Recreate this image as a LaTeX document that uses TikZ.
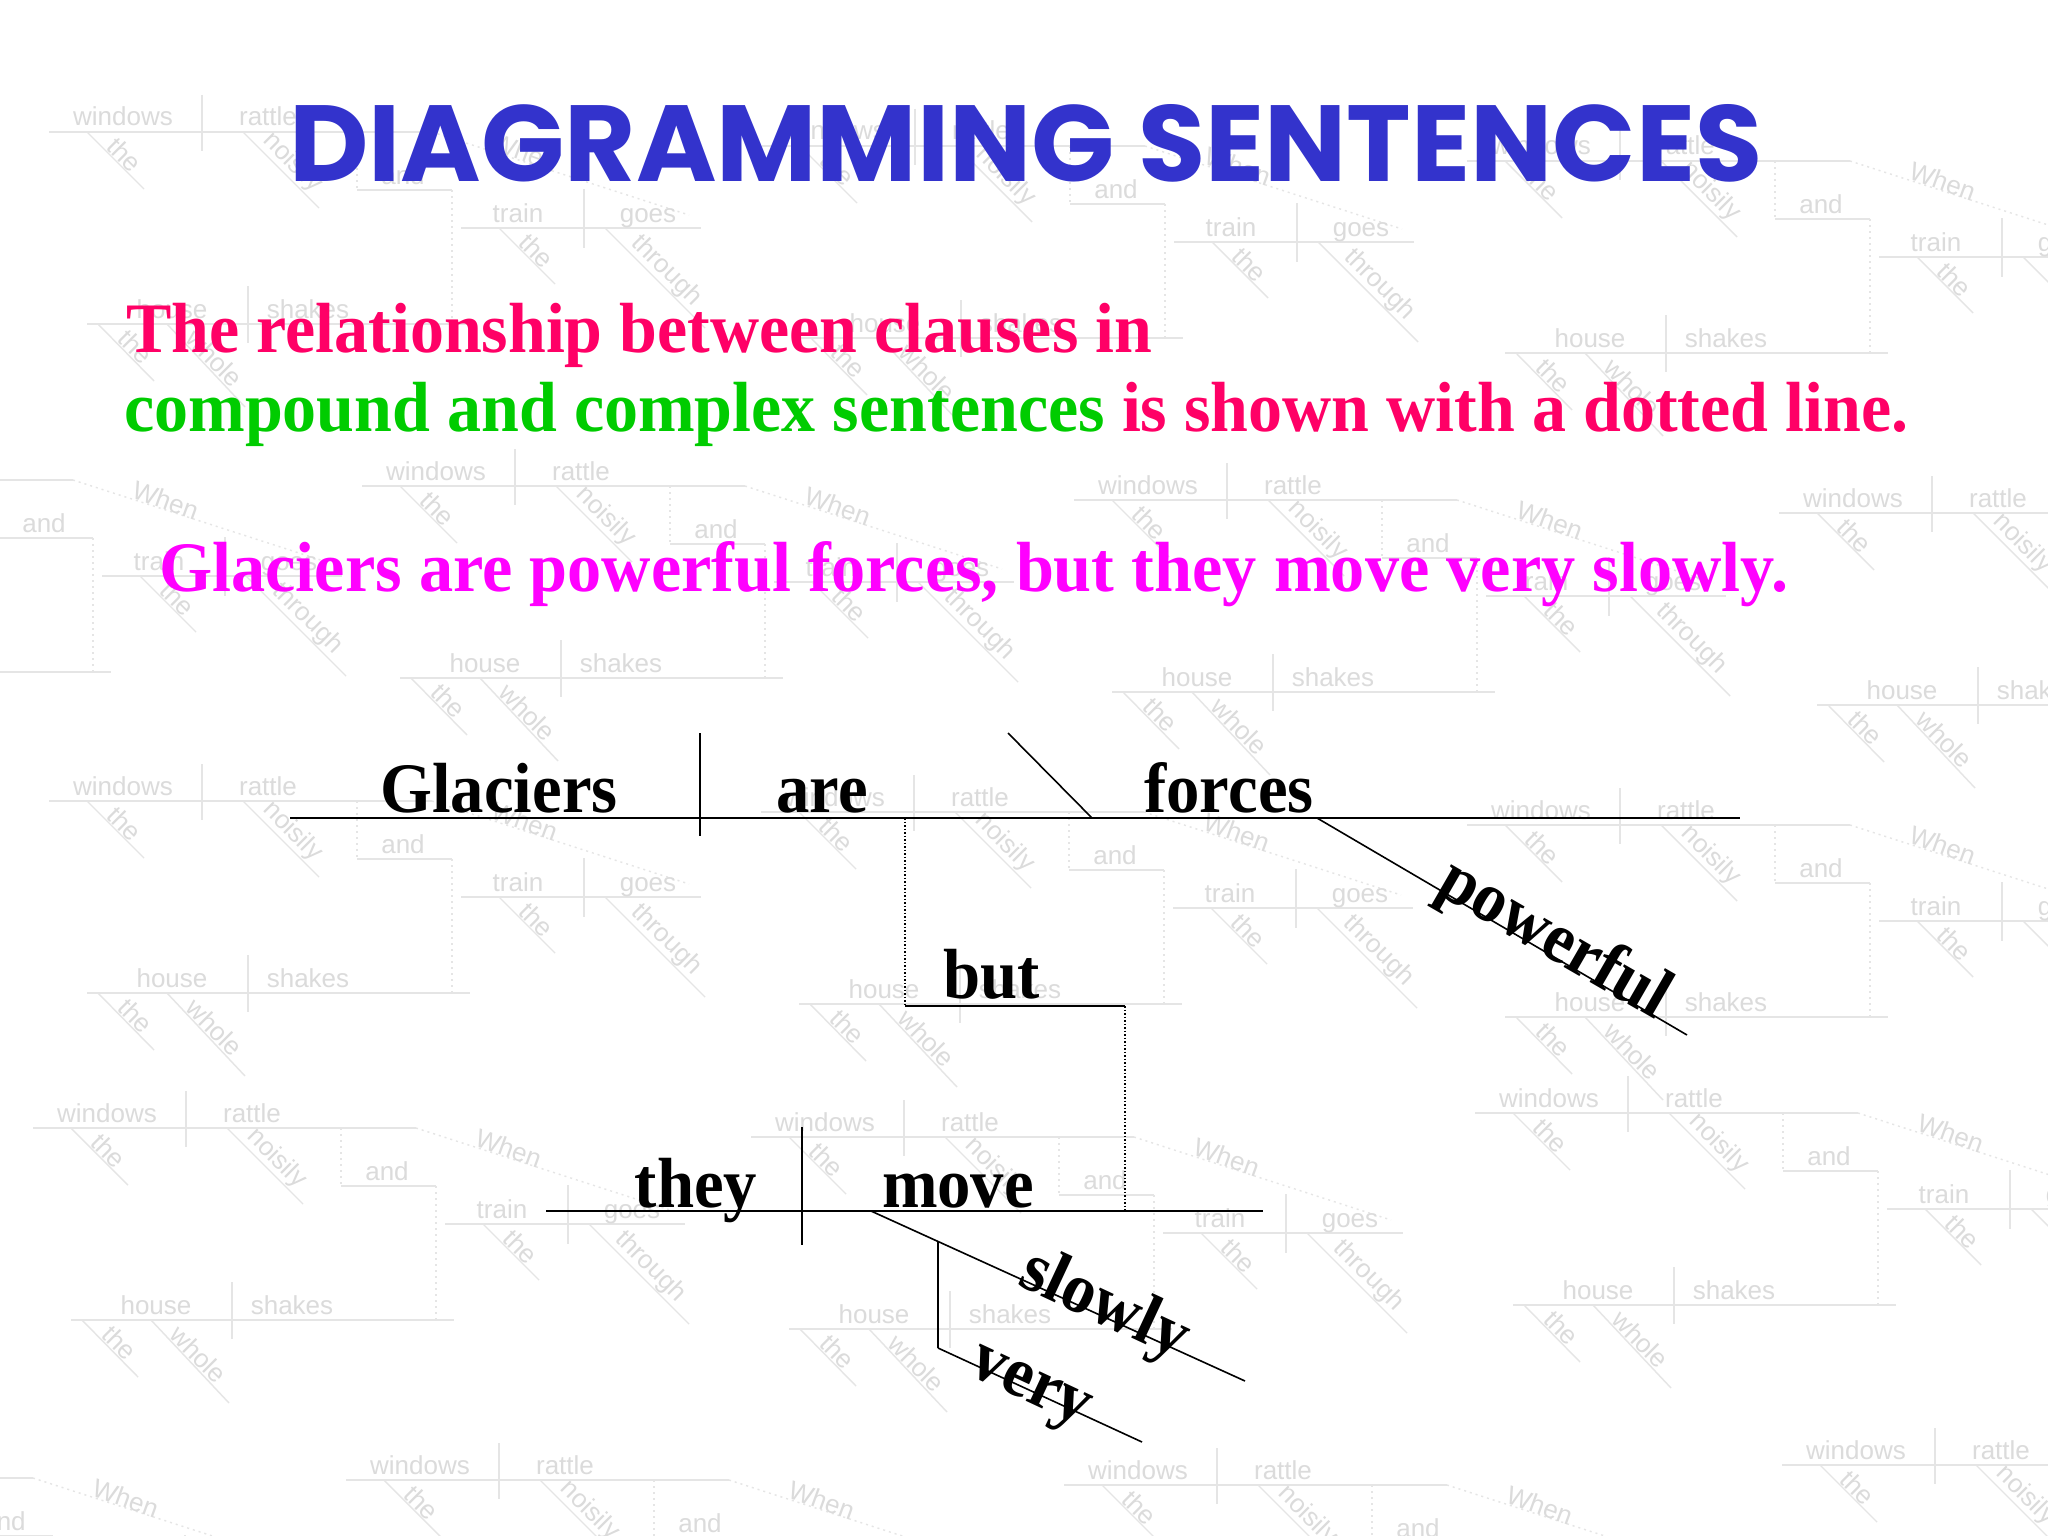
\documentclass[tikz,border=0pt]{standalone}
\usepackage{fontspec}
\usepackage{graphicx}
\setmainfont{Liberation Serif}
\newfontfamily\titlefont{Poppins}
\newfontfamily\wmfontfam{Liberation Sans}
\definecolor{titleblue}{HTML}{3333CC}
\definecolor{hpink}{HTML}{FF0066}
\definecolor{hgreen}{HTML}{00CC00}
\definecolor{hmag}{HTML}{FF00FF}
\definecolor{wmline}{gray}{0.9}
\definecolor{wmtext}{gray}{0.86}
\newcommand\wmfont{\wmfontfam\fontsize{26}{30}\selectfont}
\newcommand\hfont{\bfseries\fontsize{71}{80}\selectfont}
\newcommand\dgfont{\bfseries\fontsize{71}{80}\selectfont}
\newcommand\dgword[1]{\scalebox{0.94}[1]{#1}}
\tikzset{
  wml/.style={draw=wmline, line width=1.4pt},
  wmd/.style={draw=wmline, line width=1.4pt, dash pattern=on 2pt off 4pt},
  wmt/.style={text=wmtext, font=\wmfont, inner sep=1pt},
  wm/.pic={
    \draw[wml] (0,0) -- (383,0);
    \draw[wml] (153,-37) -- (153,19);
    \node[wmt, anchor=base] (-windows) at (74,-6) {windows};
    \node[wmt, anchor=base] (-rattle) at (219,-6) {rattle};
    \draw[wml] (38,0) -- (95,57);
    \node[wmt, rotate=-45, anchor=south] (-the1) at (68,30) {the};
    \draw[wml] (194,0) -- (270,76);
    \node[wmt, rotate=-45, anchor=south] (-noisily) at (234,40) {noisily};
    \draw[wmd] (308,0) -- (308,58);
    \draw[wml] (308,58) -- (403,58);
    \node[wmt, anchor=base] (-and) at (354,52) {and};
    \draw[wmd] (403,58) -- (403,192);
    \draw[wml] (38,192) -- (421,192);
    \draw[wml] (199,154) -- (199,211);
    \node[wmt, anchor=base] (-house) at (123,186) {house};
    \node[wmt, anchor=base] (-shakes) at (259,186) {shakes};
    \draw[wml] (49,192) -- (105,249);
    \node[wmt, rotate=-45, anchor=south] (-the2) at (79,222) {the};
    \draw[wml] (118,192) -- (196,275);
    \node[wmt, rotate=-45, anchor=south] (-whole) at (158,234) {whole};
    \draw[wmd] (383,0) -- (640,83);
    \node[wmt, rotate=-20, anchor=south] (-when) at (472,30) {When};
    \draw[wml] (412,96) -- (652,96);
    \draw[wml] (535,57) -- (535,116);
    \node[wmt, anchor=base] (-train) at (469,90) {train};
    \node[wmt, anchor=base] (-goes) at (599,90) {goes};
    \draw[wml] (450,96) -- (506,152);
    \node[wmt, rotate=-45, anchor=south] (-the3) at (480,126) {the};
    \draw[wml] (556,96) -- (656,196);
    \node[wmt, rotate=-45, anchor=south] (-through) at (608,148) {through};
  },
  dg/.style={font=\dgfont, inner sep=0pt, text=black},
  dline/.style={draw=black, line width=2pt},
  dthin/.style={draw=black, line width=1.6pt},
  ddot/.style={draw=black, line width=1.5pt, dash pattern=on 1.5pt off 2pt},
  head/.style={inner sep=0pt, anchor=base west},
}
\begin{document}
\begin{tikzpicture}[x=1pt,y=-1pt]
\useasboundingbox (0,0) rectangle (2048,1536);
\fill[white] (0,0) rectangle (2048,1536);
% faint background pattern
\begin{scope}
\clip (0,0) rectangle (2048,1536);
\foreach \px/\py [count=\i] in {49/132, 762/146, 1467/161, -310/480, 362/486, 1074/500, 1779/513, 49/801, 761/812, 1467/825, 33/1128, 751/1137, 1475/1113, -350/1478, 346/1480, 1064/1485, 1782/1465}
  \pic (wm\i) at (\px,\py) {wm};
\end{scope}

% title
\node[head, text=titleblue] (title) at (289,182)
  {\resizebox{1473pt}{77pt}{\titlefont\bfseries DIAGRAMMING SENTENCES}};

% explanatory lines
\node[head, text=hpink] (line1) at (126,352)
  {\resizebox{1026pt}{\height}{\hfont The relationship between clauses in}};
\node[head, text=hpink] (line2) at (124,431)
  {\resizebox{1784pt}{\height}{\hfont\textcolor{hgreen}{compound and complex sentences} is shown with a dotted line.}};
\node[head, text=hmag] (line3) at (159,591)
  {\resizebox{1629pt}{\height}{\hfont Glaciers are powerful forces, but they move very slowly.}};

% upper clause
\coordinate (u1) at (290,818);
\coordinate (u2) at (1740,818);
\coordinate (d1t) at (700,733);
\coordinate (d1b) at (700,836);
\coordinate (s1t) at (1008,733);
\coordinate (s1b) at (1092,818);
\coordinate (pw1) at (1317,818);
\coordinate (pw2) at (1687,1035);
\coordinate (c1) at (905,818);
\coordinate (c2) at (905,1006);
\coordinate (c3) at (1125,1006);
\coordinate (c4) at (1125,1211);
% lower clause
\coordinate (l1) at (546,1211);
\coordinate (l2) at (1263,1211);
\coordinate (d2t) at (802,1127);
\coordinate (d2b) at (802,1245);
\coordinate (sl1) at (871,1211);
\coordinate (sl2) at (1245,1381);
\coordinate (v1) at (938,1242);
\coordinate (v2) at (938,1348);
\coordinate (v3) at (1142,1442);

\draw[dline] (u1) -- (u2);
\draw[dthin] (d1t) -- (d1b);
\draw[dthin] (s1t) -- (s1b);
\draw[dthin] (pw1) -- (pw2);
\draw[ddot] (c1) -- (c2);
\draw[dline] (c2) -- (c3);
\draw[ddot] (c3) -- (c4);
\draw[dline] (l1) -- (l2);
\draw[dthin] (d2t) -- (d2b);
\draw[dthin] (sl1) -- (sl2);
\draw[dthin] (v1) -- (v2);
\draw[dthin] (v2) -- (v3);

\node[dg, anchor=base] (glaciers) at (499,812) {\dgword{Glaciers}};
\node[dg, anchor=base] (are) at (822,812) {\dgword{are}};
\node[dg, anchor=base] (forces) at (1229,812) {\dgword{forces}};
\node[dg, anchor=base, rotate=-30] (powerful) at (1545,956) {\dgword{powerful}};
\node[dg, anchor=base] (but) at (992,998) {\dgword{but}};
\node[dg, anchor=base] (they) at (696,1207) {\dgword{they}};
\node[dg, anchor=base] (move) at (958,1207) {\dgword{move}};
\node[dg, anchor=base, rotate=-25] (slowly) at (1097,1322) {\dgword{slowly}};
\node[dg, anchor=base, rotate=-25] (very) at (1024,1400) {\dgword{very}};
\end{tikzpicture}
\end{document}
